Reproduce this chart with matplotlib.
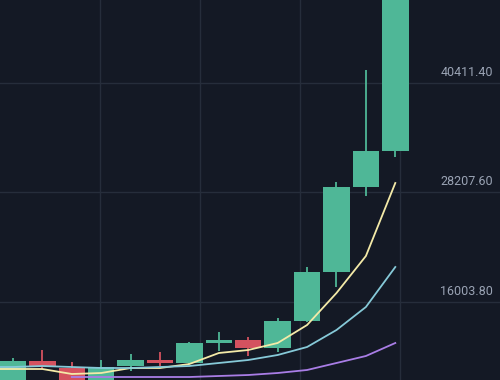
import numpy as np
import matplotlib
matplotlib.use("Agg")
import matplotlib.pyplot as plt

# candle data
opens = [5640, 9429, 8648, 5974, 8871, 9540, 9206, 11435, 11769, 10877, 13886, 19348, 28821, 32833]
highs = [9763, 10654, 9317, 9540, 10209, 10432, 11546, 12661, 12104, 14221, 19905, 29378, 41860, 52500]
lows = [5400, 8537, 5528, 5528, 8314, 8871, 9094, 10543, 9986, 10432, 13775, 17676, 27818, 32165]
closes = [9429, 8760, 5974, 8760, 9540, 9206, 11435, 11769, 10877, 13886, 19348, 28821, 32833, 52000]

# moving averages, first value belongs to the candle just off the left edge
ma_short = [8537, 8537, 8537, 7980, 8091, 8648, 8648, 9094, 10320, 10654, 11435, 13441, 17007, 21131, 29267]
ma_mid = [8760, 8760, 8871, 8760, 8648, 8648, 8760, 8871, 9206, 9540, 10097, 10989, 12884, 15447, 19905]
ma_long = [np.nan, np.nan, np.nan, 7645, 7645, 7645, 7645, 7645, 7757, 7868, 8091, 8426, 9206, 9986, 11435]

price_levels = [16003.80, 28207.60, 40411.40]

bg = '#141925'
grid_col = '#262d3b'
up_col = '#4fb797'
down_col = '#d4525f'

fig = plt.figure(figsize=(5, 3.8), dpi=100, facecolor=bg)
ax = fig.add_axes([0, 0, 1, 1])
ax.set_facecolor(bg)

x = np.arange(len(opens))
x_ma = np.arange(-1, len(opens))

# grid
for gx in [2.96, 6.36, 9.76, 13.16]:
    ax.axvline(gx, color=grid_col, lw=1.0, zorder=0)
for lvl in price_levels:
    ax.axhline(lvl, color=grid_col, lw=1.0, zorder=0)

# candles
for i in x:
    o, h, l, c = opens[i], highs[i], lows[i], closes[i]
    col = up_col if c >= o else down_col
    ax.vlines(i, l, h, color=col, lw=1.3, zorder=2)
    ax.bar(i, abs(c - o), bottom=min(o, c), width=0.9, color=col, zorder=3)

# moving averages
ax.plot(x_ma, ma_short, color='#f4eaa8', lw=1.3, zorder=4)
ax.plot(x_ma, ma_mid, color='#86c9d8', lw=1.3, zorder=4)
ax.plot(x_ma, ma_long, color='#a97de6', lw=1.3, zorder=4)

# price labels
for lvl in price_levels:
    ax.annotate(f'{lvl:.2f}', xy=(0.986, lvl), xycoords=ax.get_yaxis_transform(),
                xytext=(0, 3), textcoords='offset points', ha='right', va='bottom',
                color='#9aa3b4', fontsize=9, family='Roboto')

ax.set_xlim(-0.442, 16.56)
ax.set_ylim(7311, 49661)
ax.axis('off')

fig.savefig('out.png', dpi=100, facecolor=bg)
